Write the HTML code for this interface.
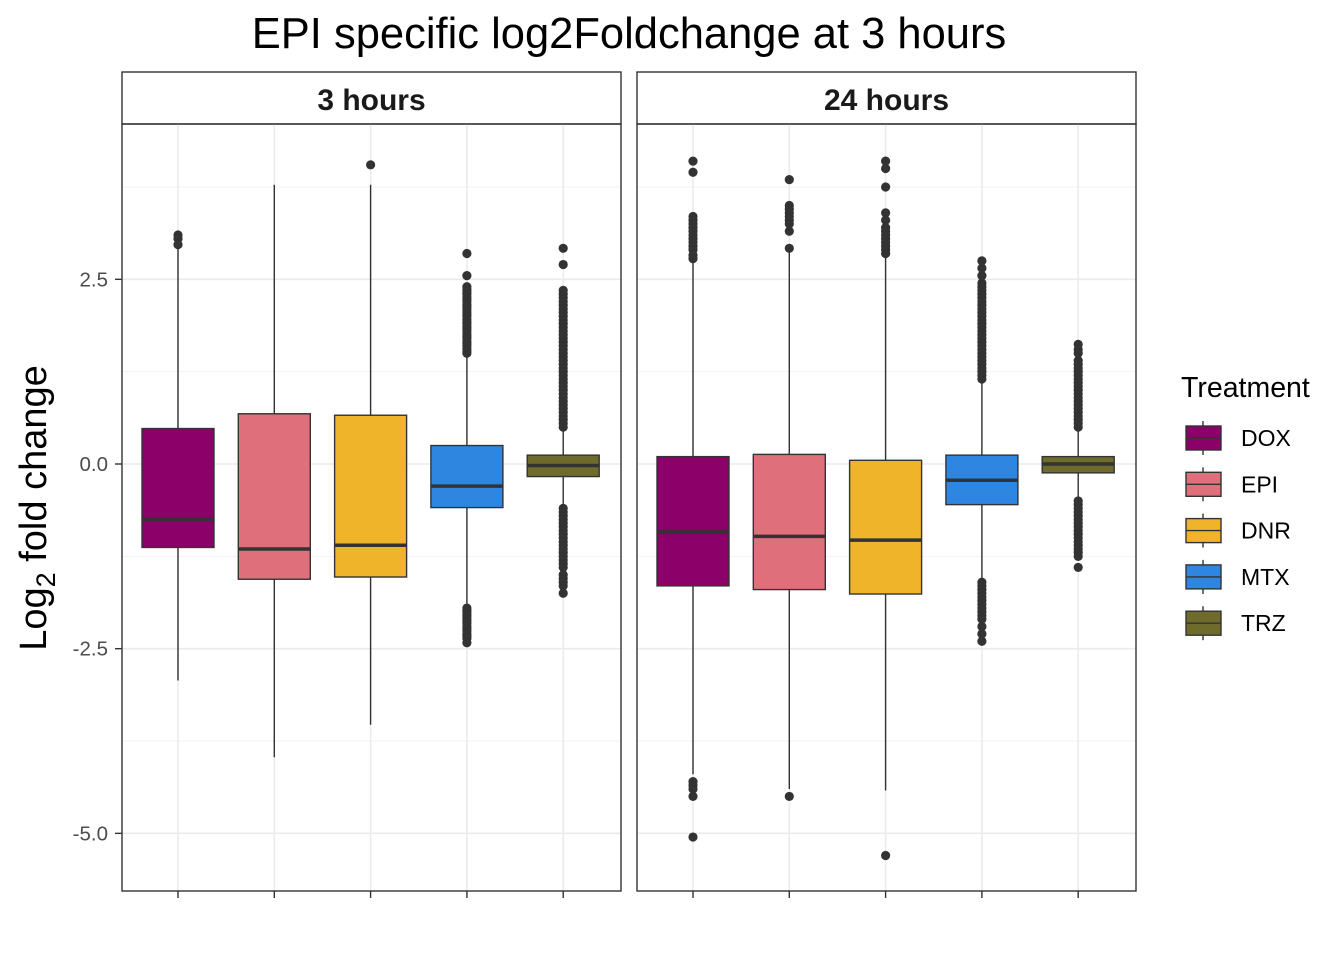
<!DOCTYPE html>
<html><head><meta charset="utf-8">
<style>
body{margin:0;background:#fff;}
svg text{font-family:"Liberation Sans",Arial,sans-serif;}
</style></head>
<body>
<svg id="chart" width="1344" height="960" viewBox="0 0 1344 960" xmlns="http://www.w3.org/2000/svg">
<text x="629" y="48" font-size="43.5" text-anchor="middle" fill="#000">EPI specific log2Foldchange at 3 hours</text>
<text transform="translate(46,508) rotate(-90)" font-size="38" text-anchor="middle" fill="#000">Log<tspan font-size="27" dy="9">2</tspan><tspan dy="-9"> fold change</tspan></text>
<g id="panels"></g>
<g id="legend"></g>
</svg>
<script>
const panels = ["3 hours", "24 hours"];
const treatments = ["DOX", "EPI", "DNR", "MTX", "TRZ"];
const colors = ["#8B0069", "#DF707B", "#F0B42B", "#2E86E0", "#6E6B2D"];
const yTicks = [2.5, 0, -2.5, -5];
const yTickLabels = ["2.5", "0.0", "-2.5", "-5.0"];
// [lowWhisker, q1, median, q3, highWhisker]
const stats3h = [
  [-2.93, -1.13, -0.75, 0.48, 2.92],
  [-3.97, -1.56, -1.15, 0.68, 3.78],
  [-3.53, -1.53, -1.10, 0.66, 3.78],
  [-1.90, -0.59, -0.30, 0.25, 1.50],
  [-0.55, -0.17, -0.02, 0.12, 0.45]
];
const stats24h = [
  [-4.20, -1.65, -0.92, 0.10, 2.75],
  [-4.40, -1.70, -0.98, 0.13, 2.90],
  [-4.42, -1.76, -1.03, 0.05, 2.85],
  [-1.55, -0.55, -0.22, 0.12, 1.10],
  [-0.45, -0.12, 0.00, 0.10, 0.45]
];
const outliers3h = [
  [2.97, 3.05, 3.10],
  [],
  [4.05],
  [1.5,1.53,1.56,1.6,1.63,1.66,1.7,1.73,1.76,1.8,1.83,1.86,1.9,1.93,1.96,2.0,2.03,2.06,2.1,2.13,2.16,2.2,2.23,2.26,2.3,2.33,2.36,2.4,2.55,2.85,-1.95,-1.98,-2.0,-2.03,-2.06,-2.1,-2.13,-2.16,-2.2,-2.23,-2.26,-2.3,-2.33,-2.36,-2.42],
  [0.5,0.55,0.6,0.65,0.7,0.75,0.8,0.85,0.9,0.95,1.0,1.05,1.1,1.15,1.2,1.25,1.3,1.35,1.4,1.45,1.5,1.55,1.6,1.65,1.7,1.75,1.8,1.85,1.9,1.95,2.0,2.05,2.1,2.15,2.2,2.25,2.3,2.35,2.7,2.92,-0.6,-0.65,-0.7,-0.75,-0.8,-0.85,-0.9,-0.95,-1.0,-1.05,-1.1,-1.15,-1.2,-1.25,-1.3,-1.35,-1.4,-1.5,-1.55,-1.6,-1.65,-1.75]
];
const outliers24h = [
  [2.78,2.83,2.9,2.95,3.0,3.05,3.1,3.15,3.2,3.25,3.3,3.35,3.95,4.1,-4.3,-4.35,-4.4,-4.5,-5.05],
  [2.92,3.15,3.25,3.3,3.35,3.4,3.45,3.5,3.85,-4.5],
  [2.85,2.9,2.95,3.0,3.05,3.1,3.15,3.2,3.3,3.4,3.75,4.0,4.1,-5.3],
  [1.15,1.2,1.25,1.3,1.35,1.4,1.45,1.5,1.55,1.6,1.65,1.7,1.75,1.8,1.85,1.9,1.95,2.0,2.05,2.1,2.15,2.2,2.25,2.3,2.35,2.4,2.45,2.55,2.65,2.75,-1.6,-1.65,-1.7,-1.75,-1.8,-1.85,-1.9,-1.95,-2.0,-2.05,-2.1,-2.2,-2.3,-2.4],
  [0.5,0.55,0.6,0.65,0.7,0.75,0.8,0.85,0.9,0.95,1.0,1.05,1.1,1.15,1.2,1.25,1.3,1.35,1.4,1.5,1.55,1.62,-0.5,-0.55,-0.6,-0.65,-0.7,-0.75,-0.8,-0.85,-0.9,-0.95,-1.0,-1.05,-1.1,-1.15,-1.2,-1.25,-1.4]
];
const allStats = [stats3h, stats24h];
const allOutliers = [outliers3h, outliers24h];

const NS = "http://www.w3.org/2000/svg";
const panelX = [122, 637], panelW = 499, panelTop = 124, panelBot = 891;
const y = v => 464 - v * 73.87;
const x = (p, i) => panelX[p] + 56 + i * 96.3;
function mk(tag, attrs, parent) {
  const e = document.createElementNS(NS, tag);
  for (const k in attrs) e.setAttribute(k, attrs[k]);
  parent.appendChild(e); return e;
}
const root = document.getElementById("panels");
panels.forEach((pname, p) => {
  const g = mk("g", {}, root);
  
  
  const px = panelX[p];
  const strip = mk("rect", {x: px, y: 72, width: panelW, height: 52, fill: "#fff", stroke: "#333", "stroke-width": 1.4}, g);
  
  
  const st = mk("text", {x: px + panelW / 2, y: 110, "font-size": 30, "font-weight": "bold", "text-anchor": "middle", fill: "#1a1a1a"}, g);
  st.textContent = pname;
  
  
  [3.75, 1.25, -1.25, -3.75].forEach(v => {
    mk("line", {x1: px, x2: px + panelW, y1: y(v), y2: y(v), stroke: "#f2f2f2", "stroke-width": 1}, g);
  });
  yTicks.forEach(v => {
    mk("line", {x1: px, x2: px + panelW, y1: y(v), y2: y(v), stroke: "#ebebeb", "stroke-width": 1.6}, g);
  });
  treatments.forEach((t, i) => {
    mk("line", {x1: x(p, i), x2: x(p, i), y1: panelTop, y2: panelBot, stroke: "#ebebeb", "stroke-width": 1.6}, g);
  });
  treatments.forEach((t, i) => {
    const s = allStats[p][i], cx = x(p, i), hw = 36;
    const bg = mk("g", {}, g);
    
    
    mk("line", {x1: cx, x2: cx, y1: y(s[4]), y2: y(s[3]), stroke: "#333", "stroke-width": 1.4}, bg);
    mk("line", {x1: cx, x2: cx, y1: y(s[1]), y2: y(s[0]), stroke: "#333", "stroke-width": 1.4}, bg);
    mk("rect", {x: cx - hw, y: y(s[3]), width: hw * 2, height: y(s[1]) - y(s[3]), fill: colors[i], stroke: "#333", "stroke-width": 1.4}, bg);
    mk("line", {x1: cx - hw, x2: cx + hw, y1: y(s[2]), y2: y(s[2]), stroke: "#333", "stroke-width": 3.5}, bg);
    allOutliers[p][i].forEach(v => {
      const c = mk("circle", {cx: cx, cy: y(v), r: 4.6, fill: "#333"}, bg);
      
      
    });
    mk("line", {x1: cx, x2: cx, y1: panelBot, y2: panelBot + 7, stroke: "#333", "stroke-width": 1.4}, g);
  });
  const border = mk("rect", {x: px, y: panelTop, width: panelW, height: panelBot - panelTop, fill: "none", stroke: "#333", "stroke-width": 1.4}, g);
  
  
});
yTicks.forEach((v, k) => {
  mk("line", {x1: 115, x2: 122, y1: y(v), y2: y(v), stroke: "#333", "stroke-width": 1.4}, root);
  const tx = mk("text", {x: 108, y: y(v) + 7, "font-size": 20.5, "text-anchor": "end", fill: "#4d4d4d"}, root);
  tx.textContent = yTickLabels[k];
  
  
});
const lg = document.getElementById("legend");
const lt = mk("text", {x: 1181, y: 397, "font-size": 28.5, fill: "#000"}, lg);
lt.textContent = "Treatment";


treatments.forEach((t, i) => {
  const cy = 438 + i * 46.3;
  const eg = mk("g", {}, lg);
  
  
  mk("line", {x1: 1203, x2: 1203, y1: cy - 17, y2: cy + 17, stroke: "#333", "stroke-width": 1.4}, eg);
  mk("rect", {x: 1186, y: cy - 12, width: 35, height: 24, fill: colors[i], stroke: "#333", "stroke-width": 1.4}, eg);
  mk("line", {x1: 1186, x2: 1221, y1: cy, y2: cy, stroke: "#333", "stroke-width": 1.4}, eg);
  const tx = mk("text", {x: 1241, y: cy + 8, "font-size": 23, fill: "#000"}, eg);
  tx.textContent = t;
});
</script>
</body></html>
